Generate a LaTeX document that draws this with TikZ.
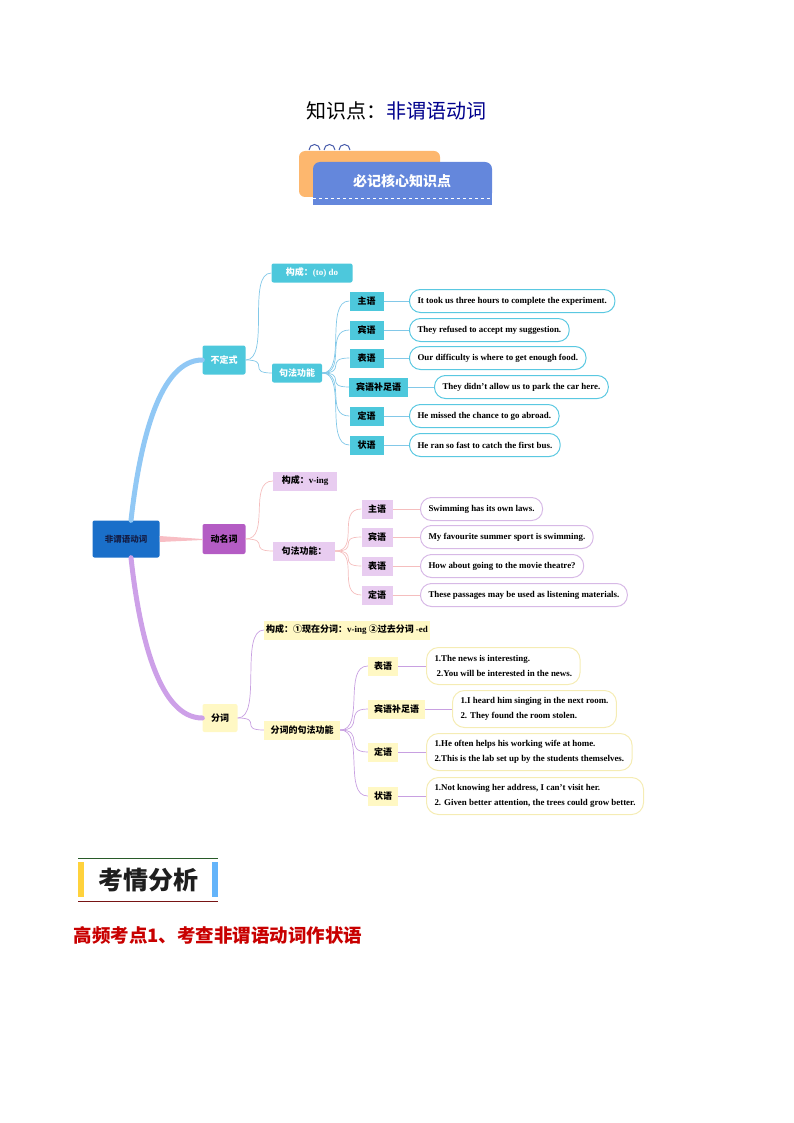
\documentclass[tikz,border=0pt]{standalone}
\usepackage{fontspec}
\setmainfont{Liberation Serif}
\newfontfamily\cjk{Noto Sans CJK SC}
\definecolor{icy}{RGB}{77,200,220}
\definecolor{icl}{RGB}{130,200,232}
\definecolor{ics}{RGB}{90,200,225}
\definecolor{gbg}{RGB}{232,204,240}
\definecolor{gbd}{RGB}{215,185,230}
\definecolor{gln}{RGB}{245,190,190}
\definecolor{pbg}{RGB}{255,248,196}
\definecolor{pbd}{RGB}{245,236,180}
\definecolor{pln}{RGB}{200,160,225}
\definecolor{orng}{RGB}{253,183,110}
\definecolor{bdg}{RGB}{100,135,220}
\definecolor{ring}{RGB}{70,90,170}
\definecolor{rootc}{RGB}{26,111,201}
\definecolor{roott}{RGB}{20,30,70}
\definecolor{dmcc}{RGB}{180,92,196}
\definecolor{rb}{RGB}{145,200,245}
\definecolor{rp}{RGB}{248,190,196}
\definecolor{rv}{RGB}{205,160,232}
\definecolor{dgr}{RGB}{40,90,40}
\definecolor{drd}{RGB}{120,20,20}
\definecolor{yel}{RGB}{255,210,60}
\definecolor{sky}{RGB}{100,180,250}
\definecolor{kqt}{RGB}{30,30,30}
\definecolor{red2}{RGB}{200,0,0}
\definecolor{navy2}{RGB}{0,0,140}
\begin{document}
\begin{tikzpicture}[x=1pt,y=-1pt,
 lab/.style={font=\cjk\bfseries\fontsize{9}{10}\selectfont,inner sep=2pt,minimum height=19pt},
 inf/.style={lab,fill=icy,text=white,rounded corners=2pt},
 infl/.style={lab,fill=icy,text=black,minimum width=34pt},
 sent/.style={line width=1pt,minimum height=23pt,font=\bfseries\fontsize{8.9}{15}\selectfont,inner xsep=8pt},
 infs/.style={sent,draw=ics,rounded corners=11pt},
 ger/.style={lab,fill=gbg,text=black},
 gers/.style={sent,draw=gbd,rounded corners=11pt},
 par/.style={lab,fill=pbg,text=black},
 pars/.style={sent,draw=pbd,rounded corners=12pt,minimum height=37pt,align=left},
 ci/.style={draw=icl,line width=0.7pt},
 cg/.style={draw=gln,line width=0.7pt},
 cp/.style={draw=pln,line width=0.7pt}
]
\useasboundingbox (0,0) rectangle (794,1123);
% title
\node[font=\cjk\fontsize{20}{24}\selectfont] (title) at (396,111) {知识点：\textcolor{navy2}{非谓语动词}};
% header badge
\fill[orng,rounded corners=6pt] (299,151) rectangle (440,197);
\fill[bdg,rounded corners=7pt] (313,162) rectangle (492,200);
\fill[bdg] (313,190) rectangle (492,205);
\draw[white,dashed,line width=0.6pt] (313,198) -- (492,198);
\foreach \cx in {309,324,339} \draw[draw=ring,line width=1pt] (\cx,150) arc (180:360:5.5);
\node[text=white,font=\cjk\bfseries\fontsize{14}{16}\selectfont] (badge) at (402,181) {必记核心知识点};
% root
\node[fill=rootc,rounded corners=2pt,minimum width=67pt,minimum height=37pt,font=\cjk\bfseries\fontsize{8.5}{10}\selectfont,text=roott] (root) at (126,539) {非谓语动词};
% level 1
\node[inf,minimum width=43pt,minimum height=29pt] (bdi) at (224,360) {不定式};
\node[lab,fill=dmcc,rounded corners=2pt,minimum width=43pt,minimum height=30pt] (dmc) at (224,539) {动名词};
\node[par,rounded corners=2pt,minimum width=35pt,minimum height=28pt] (fc) at (220,718) {分词};
% root connectors
\draw[line width=5pt,rb,line cap=round] (root.north) ++(5,0) .. controls (140,440) and (160,360) .. (bdi.west);
\fill[rp] (root.east) ++(0,-3) -- (dmc.west) -- ++(0,1) -- (160,542) -- cycle;
\draw[line width=5pt,rv,line cap=round] (root.south) ++(5,0) .. controls (140,640) and (160,718) .. (fc.west);
% infinitive
\node[inf,minimum width=81pt] (igc) at (312,273) {构成：\textrm{(to) do}};
\node[inf,minimum width=50pt] (ijf) at (297,373) {句法功能};
\draw[ci] (bdi.east) .. controls +(25,0) and +(-25,0) .. (igc.west);
\draw[ci] (bdi.east) .. controls +(25,0) and +(-25,0) .. (ijf.west);
\foreach \n/\t/\y/\s/\sx in {a/主语/301/It took us three hours to complete the experiment./409,b/宾语/330/They refused to accept my suggestion./409,c/表语/358/Our difficulty is where to get enough food./409,e/定语/416/He missed the chance to go abroad./409,f/状语/445/He ran so fast to catch the first bus./409}{
 \node[infl] (il\n) at (366.5,\y) {\t};
 \node[infs,anchor=west] (is\n) at (\sx,\y) {\s};
 \draw[ci] (ijf.east) .. controls +(25,0) and +(-25,0) .. (il\n.west);
 \draw[ci] (il\n.east) -- (is\n.west);
}
\node[infl,minimum width=59pt] (ild) at (378.5,387) {宾语补足语};
\node[infs,anchor=west] (isd) at (434,387) {They didn't allow us to park the car here.};
\draw[ci] (ijf.east) .. controls +(25,0) and +(-25,0) .. (ild.west);
\draw[ci] (ild.east) -- (isd.west);
% gerund
\node[ger,minimum width=64pt] (ggc) at (305,481) {构成：\textrm{v-ing}};
\node[ger,minimum width=62pt] (gjf) at (304,551) {句法功能：};
\draw[cg] (dmc.east) .. controls +(25,0) and +(-25,0) .. (ggc.west);
\draw[cg] (dmc.east) .. controls +(25,0) and +(-25,0) .. (gjf.west);
\foreach \n/\t/\y/\s in {a/主语/509/Swimming has its own laws.,b/宾语/537/My favourite summer sport is swimming.,c/表语/566/How about going to the movie theatre?,d/定语/595/These passages may be used as listening materials.}{
 \node[ger,minimum width=31pt] (gl\n) at (377,\y) {\t};
 \node[gers,anchor=west] (gs\n) at (420,\y) {\s};
 \draw[cg] (gjf.east) .. controls +(25,0) and +(-25,0) .. (gl\n.west);
 \draw[cg] (gl\n.east) -- (gs\n.west);
}
% participle
\node[par,anchor=west] (pgc) at (264,630) {构成：①现在分词：\textrm{v-ing} ②过去分词 \textrm{-ed}};
\node[par,minimum width=76pt] (pjf) at (302,730) {分词的句法功能};
\draw[cp] (fc.east) .. controls +(25,0) and +(-25,0) .. (pgc.west);
\draw[cp] (fc.east) .. controls +(25,0) and +(-25,0) .. (pjf.west);
\foreach \n/\t/\y/\lx/\lw/\sx/\s in {a/表语/666/383/30/426/{1.The news is interesting.\\ \ 2.You will be interested in the news.},b/宾语补足语/709/396.5/57/452/{1.I heard him singing in the next room.\\ 2. They found the room stolen.},c/定语/752/383/30/426/{1.He often helps his working wife at home.\\2.This is the lab set up by the students themselves.},d/状语/796/383/30/426/{1.Not knowing her address, I can't visit her.\\2. Given better attention, the trees could grow better.}}{
 \node[par,minimum width=\lw pt] (pl\n) at (\lx,\y) {\t};
 \node[pars,anchor=west] (ps\n) at (\sx,\y) {\s};
 \draw[cp] (pjf.east) .. controls +(25,0) and +(-25,0) .. (pl\n.west);
 \draw[cp] (pl\n.east) -- (ps\n.west);
}
% bottom
\draw[line width=1pt,dgr] (78,858) -- (218,858);
\draw[line width=1pt,drd] (78,901) -- (218,901);
\fill[yel] (78,862) rectangle (84,897);
\fill[sky] (212,862) rectangle (218,897);
\node[font=\cjk\bfseries\fontsize{25}{28}\selectfont,text=kqt] (kq) at (148,880) {考情分析};
\node[anchor=west,font=\cjk\bfseries\fontsize{18.5}{22}\selectfont,text=red2] (gp) at (70,935) {高频考点1、考查非谓语动词作状语};
\end{tikzpicture}
\end{document}
